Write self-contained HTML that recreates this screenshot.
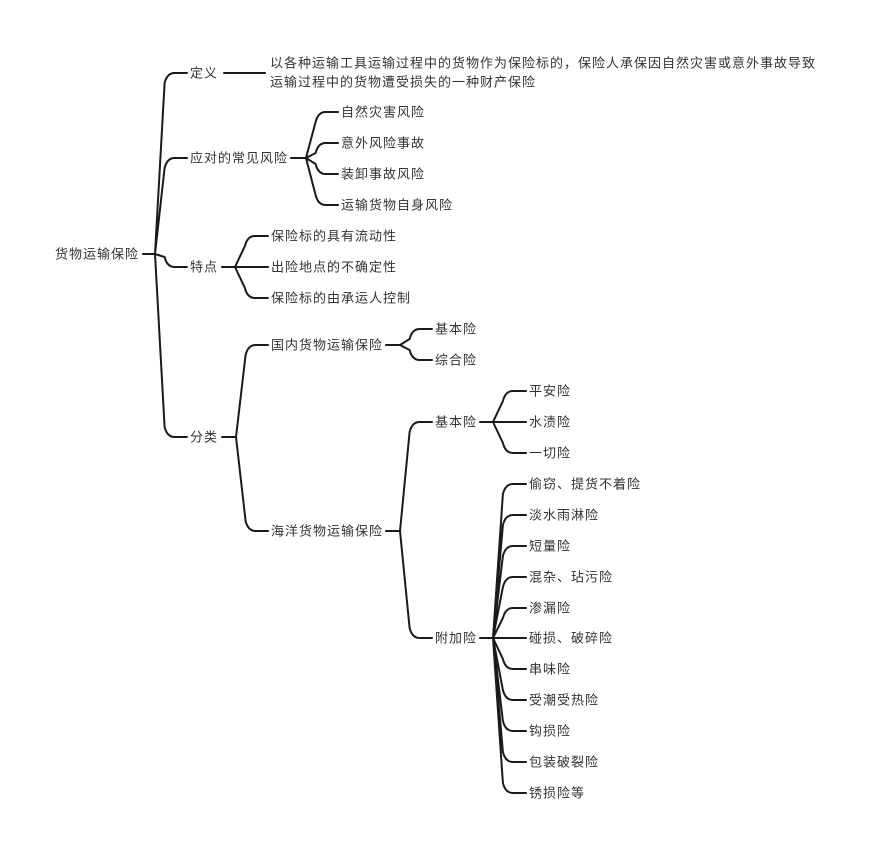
<!DOCTYPE html>
<html><head><meta charset="utf-8"><style>
html,body{margin:0;padding:0;background:#fff;width:875px;height:857px;overflow:hidden}
svg{display:block}
text{font-family:"Liberation Sans","Noto Sans CJK SC",sans-serif;font-size:13px;letter-spacing:1px;fill:#333;dominant-baseline:central}
</style></head><body>
<svg id="s" width="875" height="857" xmlns="http://www.w3.org/2000/svg">
<g id="lines" fill="none" stroke="#1a1a1a" stroke-width="2" stroke-linecap="round"></g>
<text x="55" y="254">货物运输保险</text>
<text x="190" y="73">定义</text>
<text x="270" y="63">以各种运输工具运输过程中的货物作为保险标的，保险人承保因自然灾害或意外事故导致</text>
<text x="270" y="82">运输过程中的货物遭受损失的一种财产保险</text>
<text x="190" y="158">应对的常见风险</text>
<text x="341" y="112">自然灾害风险</text>
<text x="341" y="143">意外风险事故</text>
<text x="341" y="174">装卸事故风险</text>
<text x="341" y="205">运输货物自身风险</text>
<text x="190" y="267">特点</text>
<text x="271" y="236">保险标的具有流动性</text>
<text x="271" y="267">出险地点的不确定性</text>
<text x="271" y="298">保险标的由承运人控制</text>
<text x="190" y="437">分类</text>
<text x="271" y="345">国内货物运输保险</text>
<text x="435" y="329">基本险</text>
<text x="435" y="360">综合险</text>
<text x="271" y="531">海洋货物运输保险</text>
<text x="435" y="422">基本险</text>
<text x="529" y="391">平安险</text>
<text x="529" y="422">水渍险</text>
<text x="529" y="453">一切险</text>
<text x="435" y="638">附加险</text>
<text x="529" y="484">偷窃、提货不着险</text>
<text x="529" y="515">淡水雨淋险</text>
<text x="529" y="546">短量险</text>
<text x="529" y="577">混杂、玷污险</text>
<text x="529" y="608">渗漏险</text>
<text x="529" y="638">碰损、破碎险</text>
<text x="529" y="669">串味险</text>
<text x="529" y="700">受潮受热险</text>
<text x="529" y="731">钩损险</text>
<text x="529" y="762">包装破裂险</text>
<text x="529" y="793">锈损险等</text>
</svg>
<script>
var g=document.getElementById('lines'),d='';
function L(x0,y0,x1,y1){d+='M'+x0+' '+y0+'L'+x1+' '+y1;}
function C(jx,jy,x1,y1){
 var dy=y1-jy;if(Math.abs(dy)<3){L(jx,jy,x1,y1);return;}
 var s=dy>0?1:-1,dx=x1-jx,a=Math.max(4,dx*0.3),r=Math.min(10,Math.abs(dy));
 d+='M'+jx+' '+jy+'L'+(jx+a)+' '+(y1-s*r)+'Q'+(jx+a+2.5)+' '+y1+' '+(jx+a+10)+' '+y1+'L'+x1+' '+y1;
}
function grp(sx,ex,jx,jy,cx,ys){L(sx,jy,jx,jy);ys.forEach(function(y){C(jx,jy,cx,y);});}
grp(143,155,155,254,187,[73,158,267,437]);
L(224,73,265,73);
grp(291,306,306,158,338,[112,143,174,205]);
grp(222,235,235,267,268,[236,267,298]);
grp(222,236,236,437,268,[345,531]);
grp(386,400,400,345,432,[329,360]);
grp(386,400,400,531,432,[422,638]);
grp(480,493,493,422,526,[391,422,453]);
grp(480,493,493,638,526,[484,515,546,577,608,638,669,700,731,762,793]);
var p=document.createElementNS('http://www.w3.org/2000/svg','path');p.setAttribute('d',d);g.appendChild(p);
</script>
</body></html>
